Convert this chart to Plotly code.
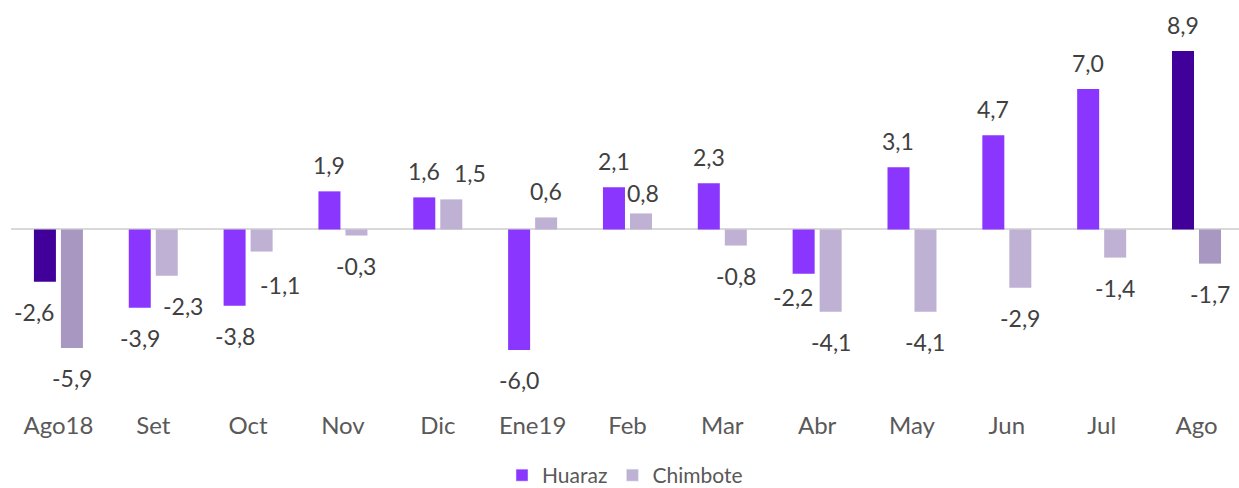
import plotly.graph_objects as go

categories = ["Ago18", "Set", "Oct", "Nov", "Dic", "Ene19", "Feb", "Mar", "Abr", "May", "Jun", "Jul", "Ago"]
huaraz = [-2.6, -3.9, -3.8, 1.9, 1.6, -6.0, 2.1, 2.3, -2.2, 3.1, 4.7, 7.0, 8.9]
chimbote = [-5.9, -2.3, -1.1, -0.3, 1.5, 0.6, 0.8, -0.8, -4.1, -4.1, -2.9, -1.4, -1.7]

HUA, HUA_DARK = "#8A36FF", "#400099"
CHI, CHI_DARK = "#BFB1D4", "#A897C0"
highlight = {"Ago18", "Ago"}

hua_colors = [HUA_DARK if c in highlight else HUA for c in categories]
chi_colors = [CHI_DARK if c in highlight else CHI for c in categories]

# geometry (in category units): category pitch ~94.83 px, bar 22 px, bar pitch 27 px
PITCH = 94.83
BAR_W = 22 / PITCH
HALF_SLOT = 13.5 / PITCH

fig = go.Figure()
fig.add_trace(go.Bar(name="Huaraz", x=categories, y=huaraz, showlegend=False,
                     width=BAR_W, offset=-HALF_SLOT - BAR_W / 2,
                     marker=dict(color=hua_colors, line=dict(width=0))))
fig.add_trace(go.Bar(name="Chimbote", x=categories, y=chimbote, showlegend=False,
                     width=BAR_W, offset=HALF_SLOT - BAR_W / 2,
                     marker=dict(color=chi_colors, line=dict(width=0))))
# legend entries with the regular series colours
fig.add_trace(go.Bar(name="Huaraz", x=[categories[0]], y=[None], marker_color=HUA, showlegend=True))
fig.add_trace(go.Bar(name="Chimbote", x=[categories[0]], y=[None], marker_color=CHI, showlegend=True))

# label nudges (pixels) to mimic the manual placement of the original
nudges = {
    ("Huaraz", "Ago18"): (-11, 0),
    ("Chimbote", "Set"): (16, 0),
    ("Chimbote", "Oct"): (18, -3),
    ("Chimbote", "Dic"): (19, 0),
    ("Huaraz", "Abr"): (-11, 7),
    ("Chimbote", "Feb"): (2, -6),
}

annotations = []
for name, vals, side in (("Huaraz", huaraz, -1), ("Chimbote", chimbote, 1)):
    for c, v in zip(categories, vals):
        dx, dy = nudges.get((name, c), (0, 0))
        ys = 26 if v >= 0 else -30
        annotations.append(dict(
            x=c, y=v, xref="x", yref="y",
            text=f"{v:.1f}".replace(".", ","),
            showarrow=False, xanchor="center", yanchor="middle",
            xshift=side * 13.5 + dx, yshift=ys + dy,
            font=dict(family="Lato", size=23, color="#404040"),
        ))

fig.update_layout(
    width=1239, height=488,
    margin=dict(l=11, r=0, t=0, b=83, autoexpand=False),
    paper_bgcolor="white", plot_bgcolor="white",
    barmode="overlay",
    font=dict(family="Lato", size=22, color="#595959"),
    xaxis=dict(range=[-0.5, 12.448], showgrid=False, showline=False,
               ticks="", ticklabelstandoff=4, automargin=False,
               tickfont=dict(family="Lato", size=24, color="#595959")),
    yaxis=dict(range=[-8.745, 11.435], showgrid=False, showticklabels=False,
               zeroline=True, zerolinecolor="#D9D9D9", zerolinewidth=2, automargin=False),
    legend=dict(orientation="h", x=0.5, xanchor="center", y=-91 / 405, yanchor="bottom",
                font=dict(family="Lato", size=21, color="#595959"),
                itemwidth=30, traceorder="normal"),
    annotations=annotations,
    showlegend=True,
)

fig.write_html("out.html", config={"displayModeBar": False, "responsive": False},
               post_script="document.body.style.margin='0px';document.body.style.overflow='hidden';")
